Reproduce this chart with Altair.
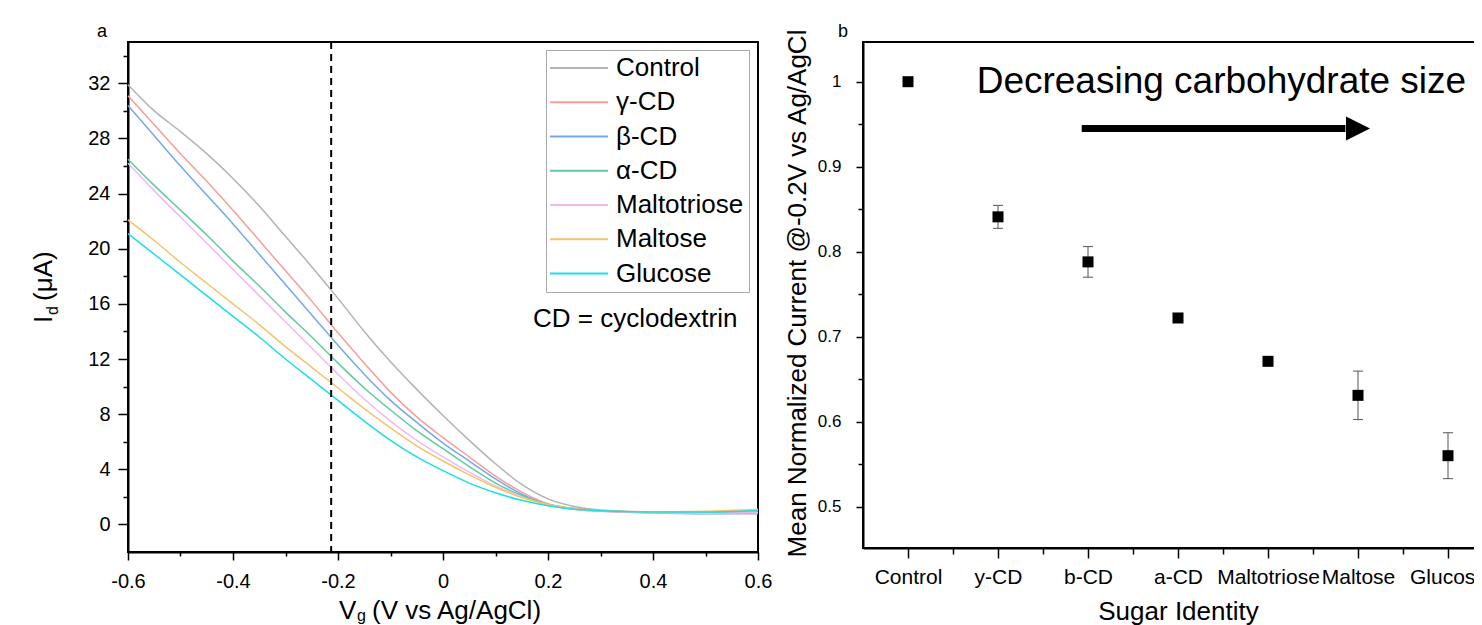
import json
import pandas as pd
import altair as alt

FONT = "Liberation Sans"

# ---------------- Panel a: transfer curves ----------------
V_G = [-0.6, -0.55, -0.5, -0.45, -0.4, -0.35, -0.3, -0.25, -0.2, -0.15, -0.1, -0.05,
       0.0, 0.05, 0.1, 0.15, 0.2, 0.25, 0.3, 0.4, 0.5, 0.6]
SERIES = ["Control", "γ-CD", "β-CD", "α-CD", "Maltotriose", "Maltose", "Glucose"]
COLORS = ["#b3b3b3", "#f89c9c", "#73a8ef", "#5fcb9e", "#f2b8f2", "#f4c46c", "#1ddde6"]
I_CONTROL = [31.9, 30.0, 28.5, 26.9, 25.1, 23.1, 20.9, 18.7, 16.4, 14.0, 11.8, 9.8,
             7.9, 6.1, 4.4, 2.9, 1.85, 1.3, 1.05, 0.9, 0.85, 0.9]
I_GAMMA = [31.1, 29.0, 26.9, 24.9, 22.8, 20.6, 18.4, 16.2, 13.9, 11.7, 9.6, 7.8,
           6.3, 4.9, 3.5, 2.35, 1.5, 1.15, 1.0, 0.85, 0.8, 0.8]
I_BETA = [30.4, 28.2, 26.0, 23.9, 21.8, 19.6, 17.4, 15.2, 13.0, 10.9, 9.0, 7.4,
          5.9, 4.6, 3.3, 2.2, 1.45, 1.1, 0.95, 0.84, 0.78, 0.8]
I_ALPHA = [26.5, 24.6, 22.8, 21.0, 19.1, 17.3, 15.4, 13.6, 11.7, 9.9, 8.3, 6.8,
           5.5, 4.2, 3.0, 2.1, 1.45, 1.15, 1.0, 0.9, 0.9, 1.05]
I_MALTOTRIOSE = [26.2, 24.2, 22.3, 20.4, 18.5, 16.6, 14.7, 12.8, 10.9, 9.1, 7.5, 6.1,
                 4.9, 3.8, 2.8, 2.0, 1.4, 1.1, 0.95, 0.85, 0.82, 0.85]
I_MALTOSE = [22.1, 20.6, 19.0, 17.5, 16.0, 14.5, 12.9, 11.4, 9.9, 8.4, 7.0, 5.7,
             4.6, 3.6, 2.7, 1.95, 1.45, 1.15, 1.0, 0.9, 0.95, 1.1]
I_GLUCOSE = [21.1, 19.6, 18.1, 16.6, 15.1, 13.6, 12.0, 10.5, 9.0, 7.5, 6.1, 4.9,
             3.9, 3.0, 2.3, 1.75, 1.35, 1.1, 1.0, 0.9, 0.9, 1.0]
CURVES = [I_CONTROL, I_GAMMA, I_BETA, I_ALPHA, I_MALTOTRIOSE, I_MALTOSE, I_GLUCOSE]
CUTOFF_V = -0.213
LX_TICKS = [-0.6, -0.5, -0.4, -0.3, -0.2, -0.1, 0.0, 0.1, 0.2, 0.3, 0.4, 0.5, 0.6]
LY_TICKS = [0, 2, 4, 6, 8, 10, 12, 14, 16, 18, 20, 22, 24, 26, 28, 30, 32, 34]

# ---------------- Panel b: normalized current ----------------
SUGARS = ["Control", "y-CD", "b-CD", "a-CD", "Maltotriose", "Maltose", "Glucose"]
MEAN = [1.0, 0.841, 0.788, 0.722, 0.671, 0.631, 0.560]
ERR = [0.0, 0.0135, 0.018, 0.004, 0.004, 0.0285, 0.027]
RX_TICKS = [1, 1.5, 2, 2.5, 3, 3.5, 4, 4.5, 5, 5.5, 6, 6.5, 7]
RY_TICKS = [0.5, 0.55, 0.6, 0.65, 0.7, 0.75, 0.8, 0.85, 0.9, 0.95, 1.0]

rows = []
for name, vals in zip(SERIES, CURVES):
    for v, i in zip(V_G, vals):
        rows.append({"x": v, "y": i, "series": name})
df_a = pd.DataFrame(rows)

df_b = pd.DataFrame({
    "x": list(range(1, len(SUGARS) + 1)),
    "y": MEAN,
    "lo": [m - e for m, e in zip(MEAN, ERR)],
    "hi": [m + e for m, e in zip(MEAN, ERR)],
    "name": SUGARS,
})

AX = dict(domainColor="black", domainWidth=2, tickColor="black", tickWidth=1.5,
          labelColor="black", labelFont=FONT, grid=False, labelOverlap=False,
          labelFlush=False, titleFont=FONT, titleColor="black", titleFontWeight="normal")

# ---- left axes/scales
LX_SCALE = alt.Scale(domain=[-0.6, 0.6], nice=False, zero=False)
LY_SCALE = alt.Scale(domain=[-2, 35], nice=False, zero=False)
lx_minor = "abs(round(datum.value*5) - datum.value*5) > 0.01"
ax_lx = alt.Axis(
    values=LX_TICKS, title=None, labelFontSize=20, labelPadding=11,
    tickSize={"condition": {"test": lx_minor, "value": 4}, "value": 8},
    labelExpr=f"{lx_minor} ? '' : (abs(datum.value) < 1e-9 ? '0' : (datum.value < 0 ? '-' : '') + format(abs(datum.value), '.1f'))",
    **AX)
ax_ly = alt.Axis(
    values=LY_TICKS, title=None, labelFontSize=20, labelPadding=8,
    tickSize={"condition": {"test": "datum.value % 4 != 0", "value": 5}, "value": 10},
    labelExpr="datum.value % 4 != 0 ? '' : '' + datum.value",
    **AX)

def LX(field="x"):
    return alt.X(f"{field}:Q", scale=LX_SCALE, axis=ax_lx)

def LY(field="y"):
    return alt.Y(f"{field}:Q", scale=LY_SCALE, axis=ax_ly)

leg = alt.Legend(title=None, orient="none", legendX=418, legendY=8,
                 symbolType="M-2.9,0H2.9", symbolSize=400, symbolStrokeWidth=2,
                 symbolOffset=15, labelOffset=24, labelFont=FONT, labelFontSize=26,
                 labelColor="black", padding=5, rowPadding=8.25,
                 strokeColor="#a8a8a8", fillColor="white", offset=0)

lines = alt.Chart(df_a).mark_line(strokeWidth=1.5, interpolate="monotone").encode(
    x=LX(), y=LY(),
    color=alt.Color("series:N", scale=alt.Scale(domain=SERIES, range=COLORS), legend=leg),
)
cutoff = alt.Chart(pd.DataFrame({"x": [CUTOFF_V]})).mark_rule(
    color="black", strokeWidth=2, strokeDash=[7, 5]).encode(x=LX())
note_a = alt.Chart(pd.DataFrame({"x": [0.1714], "y": [14.32], "t": ["CD = cyclodextrin"]})).mark_text(
    font=FONT, fontSize=26, align="left", baseline="alphabetic", color="black"
).encode(x=LX(), y=LY(), text="t:N")

def ptext(t, x, y, size, angle=0):
    return alt.Chart(pd.DataFrame({"t": [t]})).mark_text(
        font=FONT, fontSize=size, align="left", baseline="alphabetic", color="black", angle=angle
    ).encode(x=alt.value(x), y=alt.value(y), text="t:N")

left_texts = [
    ptext("a", -31, -5, 18),
    ptext("I", -76, 281, 26, 270),
    ptext("d", -70, 273, 16, 270),
    ptext("(μA)", -76, 259, 26, 270),
    ptext("V", 211, 577, 26),
    ptext("g", 229, 579, 16),
    ptext("(V vs Ag/AgCl)", 244, 577, 26),
]

left = alt.layer(lines, cutoff, note_a, *left_texts).properties(width=630, height=510)

# ---- right axes/scales
RX_SCALE = alt.Scale(domain=[0.5, 7.5], nice=False, zero=False)
RY_SCALE = alt.Scale(domain=[0.4514, 1.0467], nice=False, zero=False)
ry_minor = "abs(round(datum.value*10) - datum.value*10) > 0.01"
ax_rx = alt.Axis(
    values=RX_TICKS, title="Sugar Identity", titleFontSize=26, titleX=315, titleY=71,
    titleBaseline="alphabetic", titleAlign="center", titleAngle=0,
    labelFontSize=21, labelPadding=8.5,
    tickSize={"condition": {"test": "datum.value % 1 != 0", "value": 6}, "value": 10},
    labelExpr=f"datum.value % 1 != 0 ? '' : {json.dumps(SUGARS)}[datum.value - 1]",
    **AX)
ax_ry = alt.Axis(
    values=RY_TICKS, title="Mean Normalized Current @-0.2V vs Ag/AgCl", titleFontSize=26,
    titleAngle=270, titleX=-58, titleY=251, titleBaseline="alphabetic", titleAlign="center",
    labelFontSize=17, labelPadding=15,
    tickSize={"condition": {"test": ry_minor, "value": 5}, "value": 7},
    labelExpr=f"{ry_minor} ? '' : format(datum.value, '~g')",
    **AX)

def RX(field="x"):
    return alt.X(f"{field}:Q", scale=RX_SCALE, axis=ax_rx)

def RY(field="y"):
    return alt.Y(f"{field}:Q", scale=RY_SCALE, axis=ax_ry)

err_rule = alt.Chart(df_b).mark_rule(color="#555555", strokeWidth=1).encode(
    x=RX(), y=RY("lo"), y2="hi:Q")
cap_lo = alt.Chart(df_b).mark_tick(orient="horizontal", size=10, thickness=1,
                                   color="#555555", opacity=1).encode(x=RX(), y=RY("lo"))
cap_hi = alt.Chart(df_b).mark_tick(orient="horizontal", size=10, thickness=1,
                                   color="#555555", opacity=1).encode(x=RX(), y=RY("hi"))
pts = alt.Chart(df_b).mark_square(size=121, color="black", opacity=1).encode(x=RX(), y=RY())

note_b = alt.Chart(pd.DataFrame({"x": [1.763], "y": [0.987], "t": ["Decreasing carbohydrate size"]})).mark_text(
    font=FONT, fontSize=37, align="left", baseline="alphabetic", color="black"
).encode(x=RX(), y=RY(), text="t:N")
arrow = alt.Chart(pd.DataFrame({"x": [2.93], "x2": [5.86], "y": [0.945]})).mark_rule(
    color="black", strokeWidth=7).encode(x=RX(), x2="x2:Q", y=RY())
head = alt.Chart(pd.DataFrame({"x": [6.0], "y": [0.945]})).mark_point(
    shape="M-1,-1L1,0L-1,1Z", size=576, filled=True, color="black", opacity=1, strokeWidth=0
).encode(x=RX(), y=RY())

right = alt.layer(err_rule, cap_lo, cap_hi, pts, note_b, arrow, head,
                  ptext("b", -25, -5, 18)).properties(width=630, height=506)

chart = alt.hconcat(left, right, spacing=105, bounds="flush").properties(
    padding={"left": 120, "top": 34, "right": 1346, "bottom": 583},
    autosize=alt.AutoSizeParams(type="none"),
).configure_view(stroke="black", strokeWidth=2)

chart.save("out.html", embed_options={"renderer": "svg", "actions": False})
